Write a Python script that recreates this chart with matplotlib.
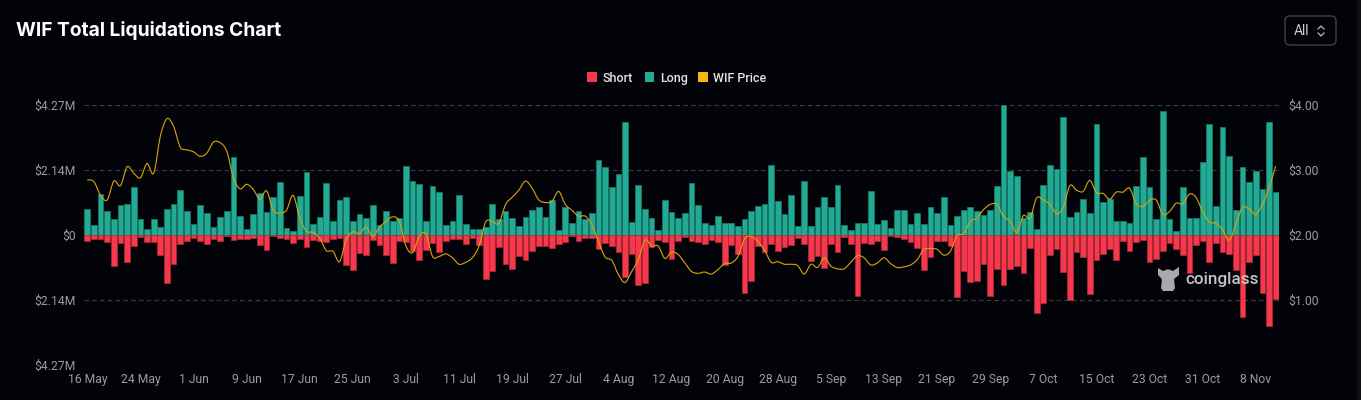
import numpy as np
import matplotlib
matplotlib.use('Agg')
import matplotlib.pyplot as plt
from matplotlib.patches import Rectangle, FancyBboxPatch, Ellipse, Polygon, PathPatch
from matplotlib.path import Path

# values, one per day from 16 May ($M)
long_vals = [0.84,0.33,1.35,0.79,0.54,1.00,1.02,1.57,0.51,0.20,0.53,0.27,0.85,1.02,1.48,0.78,0.37,0.97,0.72,0.27,
             0.58,0.79,2.57,0.61,0.20,0.69,1.37,0.76,1.26,1.74,0.22,0.13,1.27,2.07,0.35,0.59,1.72,0.46,1.15,1.25,
             0.47,0.68,0.56,0.97,0.33,0.80,0.47,0.56,2.26,1.76,1.68,0.46,1.62,1.40,0.33,0.46,1.31,0.35,0.20,0.20,
             0.26,1.03,0.51,0.79,0.56,0.28,0.60,0.82,0.93,0.58,1.15,0.18,0.91,0.38,0.78,0.54,0.72,2.45,2.24,1.57,
             2.01,3.70,0.42,1.64,0.85,0.55,0.16,1.14,0.76,0.56,0.73,1.71,0.99,0.38,0.32,0.61,0.41,0.39,0.28,0.53,
             0.79,0.95,1.01,2.30,1.11,0.69,1.30,0.30,1.77,0.31,0.91,1.24,0.93,1.63,0.33,0.16,0.41,0.38,1.43,0.36,
             0.50,0.24,0.81,0.81,0.37,0.72,0.37,0.93,0.73,1.25,0.32,0.62,0.82,0.92,0.79,0.67,0.83,1.62,4.27,2.09,
             1.93,0.57,0.76,0.19,1.63,2.29,2.16,3.88,0.60,0.77,1.18,0.72,3.66,1.07,1.19,0.45,0.46,0.39,1.60,2.56,
             1.57,0.54,4.07,0.51,0.14,1.57,0.56,0.57,2.40,3.64,0.96,3.56,2.58,0.82,2.23,1.74,2.11,1.52,3.70,1.41]
short_vals = [0.19,0.13,0.13,0.23,1.01,0.26,0.88,0.35,0.07,0.22,0.23,0.66,1.57,0.94,0.30,0.19,0.09,0.20,0.30,0.14,
              0.19,0.03,0.18,0.13,0.12,0.11,0.32,0.48,0.04,0.09,0.13,0.27,0.12,0.38,0.15,0.19,0.23,0.13,0.09,0.97,
              1.14,0.60,0.65,0.16,0.34,0.67,0.91,0.20,0.23,0.51,0.82,0.49,0.25,0.56,0.20,0.13,0.14,0.28,0.09,0.32,
              1.46,1.19,0.38,0.94,1.12,0.68,0.83,0.54,0.37,0.35,0.42,0.30,0.22,0.03,0.19,0.09,0.11,0.47,0.26,0.36,
              0.57,1.37,0.64,1.63,1.57,0.38,0.18,0.23,0.78,0.21,0.08,0.19,0.22,0.30,0.16,0.24,0.97,0.34,0.62,1.92,
              1.51,0.35,0.57,0.28,0.53,0.39,0.32,0.09,0.28,0.85,0.69,1.09,0.31,0.56,0.08,0.30,1.99,0.26,0.31,0.19,
              0.49,0.02,0.05,0.13,0.22,0.44,1.15,0.73,0.19,0.20,0.35,2.03,1.18,1.55,1.51,0.94,2.01,1.13,1.64,1.13,
              1.01,1.24,0.42,2.55,2.23,0.65,0.46,1.20,2.14,0.56,0.72,1.94,0.82,0.61,0.46,0.82,0.19,0.51,0.24,0.16,
              0.88,0.80,0.51,0.26,0.46,0.65,1.25,0.34,0.20,0.88,0.27,0.56,0.62,1.15,2.70,0.88,0.66,1.89,2.99,2.11]
price_vals = [2.85,2.82,2.61,2.54,2.83,2.76,3.05,2.95,2.88,3.10,2.95,3.52,3.79,3.67,3.35,3.31,3.28,3.21,3.26,3.43,
              3.42,3.29,2.88,2.71,2.78,2.70,2.55,2.68,2.38,2.34,2.38,2.61,2.26,2.06,2.04,1.95,1.76,1.75,1.59,1.93,
              2.05,2.02,2.12,1.98,2.12,2.21,2.28,2.21,1.83,1.73,1.98,2.02,1.67,1.67,1.71,1.65,1.55,1.58,1.65,1.83,
              2.20,2.21,2.18,2.47,2.58,2.69,2.83,2.72,2.54,2.50,2.52,2.67,2.47,2.38,2.29,2.29,2.16,1.90,1.66,1.61,
              1.39,1.27,1.44,1.62,1.92,1.83,1.83,1.64,1.74,1.70,1.57,1.44,1.41,1.43,1.40,1.47,1.56,1.57,1.67,1.94,
              1.98,1.90,1.77,1.58,1.59,1.55,1.55,1.53,1.40,1.55,1.50,1.65,1.52,1.48,1.48,1.58,1.68,1.65,1.54,1.57,
              1.65,1.56,1.50,1.51,1.54,1.62,1.78,1.79,1.78,1.69,1.75,1.99,2.02,2.21,2.26,2.39,2.47,2.47,2.29,2.21,
              2.04,2.30,2.26,2.57,2.54,2.47,2.33,2.42,2.76,2.69,2.67,2.84,2.65,2.64,2.55,2.66,2.66,2.72,2.48,2.44,
              2.53,2.54,2.32,2.36,2.49,2.48,2.63,2.58,2.36,2.20,2.18,2.08,1.92,2.16,2.42,2.40,2.32,2.47,2.72,3.06]
date_labels = ['16 May','24 May','1 Jun','9 Jun','17 Jun','25 Jun','3 Jul','11 Jul','19 Jul','27 Jul','4 Aug',
               '12 Aug','20 Aug','28 Aug','5 Sep','13 Sep','21 Sep','29 Sep','7 Oct','15 Oct','23 Oct','31 Oct','8 Nov']
left_ticks = [-4.27, -2.14, 0, 2.14, 4.27]
left_labels = ['$4.27M', '$2.14M', '$0', '$2.14M', '$4.27M']
right_ticks = [1, 2, 3, 4]
right_labels = ['$1.00', '$2.00', '$3.00', '$4.00']

BG = '#020308'
GREEN = '#22ab94'
RED = '#f7374b'
GOLD = '#d9a40a'
TICK = '#9b9ca0'
plt.rcParams['font.family'] = ['Roboto', 'DejaVu Sans']
plt.rcParams['text.parse_math'] = False

W, H = 1361, 400
fig = plt.figure(figsize=(W / 100, H / 100), dpi=100, facecolor=BG)

# overlay in pixel coordinates for title, legend, button
bg = fig.add_axes([0, 0, 1, 1], zorder=5)
bg.set_xlim(0, W)
bg.set_ylim(H, 0)
bg.axis('off')

ax = fig.add_axes([84 / W, 1 - 365 / H, 1195 / W, 260 / H], zorder=1)
ax.set_facecolor(BG)
x = np.arange(len(long_vals))
ax.bar(x, long_vals, width=0.86, color=GREEN, edgecolor='#1a7f6f', linewidth=0.5, zorder=3)
ax.bar(x, -np.array(short_vals), width=0.86, color=RED, edgecolor='#b02a3a', linewidth=0.5, zorder=3)
ax.set_xlim(-0.5, len(long_vals) - 0.5)
ax.set_ylim(-4.27, 4.27)
ax.set_yticks(left_ticks)
ax.set_yticklabels(left_labels)
ax.set_xticks(x[::8])
ax.set_xticklabels(date_labels)
ax.tick_params(axis='both', length=0, labelcolor=TICK, labelsize=8.7)
ax.tick_params(axis='x', pad=6)
ax.tick_params(axis='y', pad=6)
ax.grid(axis='y', color='#3c3d42', linestyle=(0, (4, 3)), linewidth=0.8, zorder=0)
for s in ax.spines.values():
    s.set_visible(False)

ax2 = ax.twinx()
ax2.set_ylim(0, 4.0)
ax2.set_yticks(right_ticks)
ax2.set_yticklabels(right_labels)
ax2.tick_params(axis='y', length=0, labelcolor=TICK, labelsize=8.7, pad=7)
for s in ax2.spines.values():
    s.set_visible(False)
# tick labels sit about a pixel above the grid lines
for lab in ax.get_yticklabels() + ax2.get_yticklabels():
    lab.set_y(lab.get_position()[1])
    lab.set_va('center_baseline')

# smooth price line through the daily values
p = np.column_stack([x, price_vals])
verts = [p[0]]
codes = [Path.MOVETO]
for i in range(len(p) - 1):
    a = p[max(i - 1, 0)]
    d = p[min(i + 2, len(p) - 1)]
    verts += [p[i] + (p[i + 1] - a) / 6, p[i + 1] - (d - p[i]) / 6, p[i + 1]]
    codes += [Path.CURVE4] * 3
ax2.add_patch(PathPatch(Path(verts, codes), fill=False, edgecolor=GOLD, linewidth=0.8, zorder=4))

# title
bg.text(16, 31, 'WIF Total Liquidations Chart', color='white', fontsize=13.8, fontweight='bold',
        va='center', ha='left', family=['Inter', 'DejaVu Sans'])

# legend
for lx, col, name in [(587.5, RED, 'Short'), (645, GREEN, 'Long'), (698.5, '#f0b90b', 'WIF Price')]:
    bg.add_patch(Rectangle((lx, 72), 9.5, 9.5, facecolor=col, edgecolor='none'))
    bg.text(lx + 15, 77, name, color='#e6e6e6', fontsize=9, va='center_baseline', ha='left', fontweight='medium')

# range button
bg.add_patch(FancyBboxPatch((1285, 16), 51, 29, boxstyle='round,pad=0,rounding_size=5',
                            facecolor=BG, edgecolor='#3f4146', linewidth=1))
bg.text(1293.5, 31, 'All', color='#cfd0d2', fontsize=10, va='center', ha='left')
bg.plot([1318, 1321, 1324], [29, 26, 29], color='#b5b6b8', lw=0.9)
bg.plot([1318, 1321, 1324], [33, 36, 33], color='#b5b6b8', lw=0.9)

# scrollbar strip at the right edge
bg.add_patch(Rectangle((1357, 0), 4, H, facecolor='#0d0e12', edgecolor='none'))

# coinglass watermark
wm = '#a9a9a9'
bg.add_patch(Polygon([(1158, 268), (1163, 271), (1173, 271), (1179, 267), (1179, 275), (1174, 279),
                      (1175, 288), (1173, 291), (1163, 291), (1161, 288), (1162, 279), (1158, 275)],
                     closed=True, facecolor=wm, edgecolor='none'))
bg.add_patch(Ellipse((1168, 276), 14, 13, facecolor=wm, edgecolor='none'))
bg.text(1185, 279.5, 'coinglass', color='#c4c4c4', fontsize=12.3, va='center', ha='left', fontweight='medium')

fig.savefig('out.png', dpi=100, facecolor=BG)
